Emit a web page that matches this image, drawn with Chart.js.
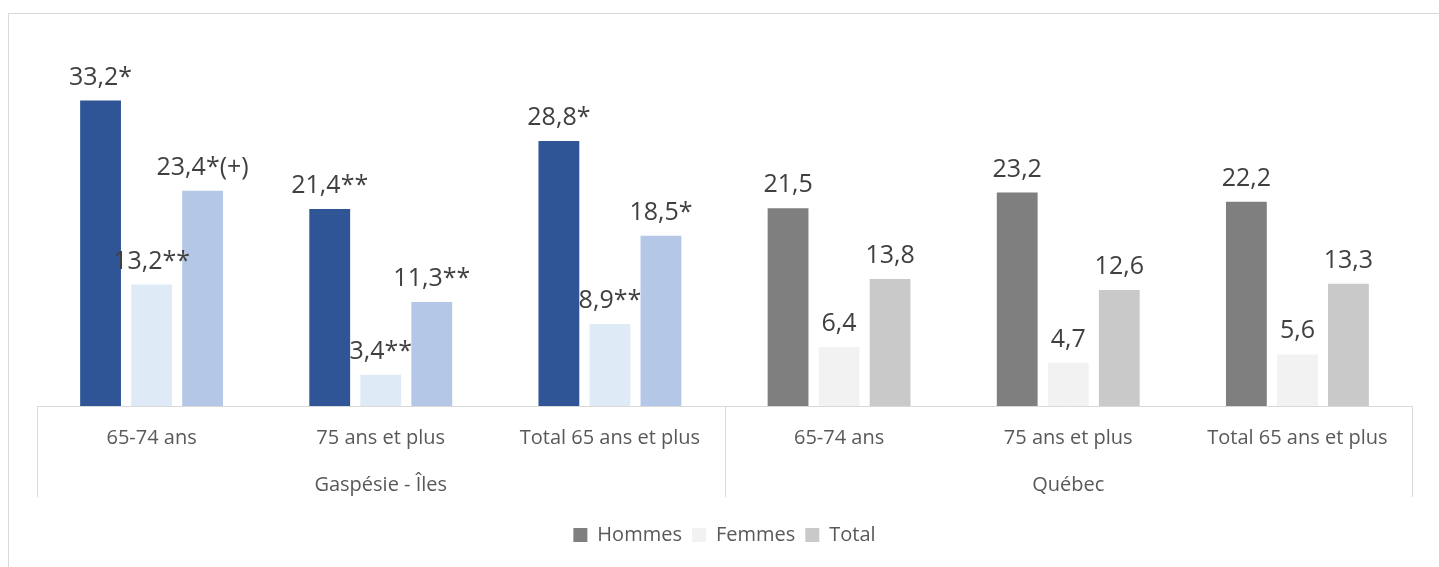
<!DOCTYPE html>
<html>
<head>
<meta charset="utf-8">
<script src="https://cdn.jsdelivr.net/npm/chart.js@4"></script>
<style>
  html, body { margin: 0; padding: 0; background: #fff; }
  #wrap { position: relative; width: 1439px; height: 567px; }
</style>
</head>
<body>
<div id="wrap"><canvas id="chart"></canvas></div>
<script>
// Data
const categories = ['65-74 ans', '75 ans et plus', 'Total 65 ans et plus', '65-74 ans', '75 ans et plus', 'Total 65 ans et plus'];
const groups = ['Gaspésie - Îles', 'Québec'];
const hommes = [33.2, 21.4, 28.8, 21.5, 23.2, 22.2];
const femmes = [13.2, 3.4, 8.9, 6.4, 4.7, 5.6];
const total = [23.4, 11.3, 18.5, 13.8, 12.6, 13.3];
const hommesLabels = ['33,2*', '21,4**', '28,8*', '21,5', '23,2', '22,2'];
const femmesLabels = ['13,2**', '3,4**', '8,9**', '6,4', '4,7', '5,6'];
const totalLabels = ['23,4*(+)', '11,3**', '18,5*', '13,8', '12,6', '13,3'];

const FONT = "'Open Sans', sans-serif";

// Colors: first 3 categories blue (region), last 3 grey (Québec)
const colHommes = ['#2F5597', '#2F5597', '#2F5597', '#7F7F7F', '#7F7F7F', '#7F7F7F'];
const colFemmes = ['#DEEBF7', '#DEEBF7', '#DEEBF7', '#F2F2F2', '#F2F2F2', '#F2F2F2'];
const colTotal = ['#B4C7E7', '#B4C7E7', '#B4C7E7', '#C9C9C9', '#C9C9C9', '#C9C9C9'];
const legendColors = ['#7F7F7F', '#F2F2F2', '#C9C9C9'];

// frame + group axis + value labels
const decorPlugin = {
    id: 'decor',
    beforeDraw: (chart) => {
        const ctx = chart.ctx;
        ctx.save();
        ctx.strokeStyle = '#D9D9D9';
        ctx.lineWidth = 1;
        ctx.strokeRect(8.5, 13.5, chart.width, chart.height);
        ctx.restore();
    },
    afterDraw: (chart) => {
        const ctx = chart.ctx;
        const x = chart.scales.x;
        const area = chart.chartArea;
        const half = (x.getPixelForValue(1) - x.getPixelForValue(0)) / 2;
        const left = x.getPixelForValue(0) - half;
        const mid = x.getPixelForValue(3) - half;
        const right = x.getPixelForValue(5) + half;
        const bottom = area.bottom + 91;
        ctx.save();
        ctx.strokeStyle = '#D9D9D9';
        ctx.lineWidth = 1;
        ctx.beginPath();
        ctx.moveTo(left, area.bottom + 0.5);
        ctx.lineTo(right, area.bottom + 0.5);
        [left, mid, right].forEach(px => {
            ctx.moveTo(Math.round(px) + 0.5, area.bottom);
            ctx.lineTo(Math.round(px) + 0.5, bottom);
        });
        ctx.stroke();
        ctx.fillStyle = '#595959';
        ctx.font = '20px ' + FONT;
        ctx.textAlign = 'center';
        ctx.textBaseline = 'middle';
        ctx.fillText(groups[0], (left + mid) / 2, area.bottom + 79);
        ctx.fillText(groups[1], (mid + right) / 2, area.bottom + 79);

        // value labels
        const labelSets = [hommesLabels, femmesLabels, totalLabels];
        ctx.fillStyle = '#404040';
        ctx.font = '25px ' + FONT;
        ctx.textBaseline = 'alphabetic';
        chart.data.datasets.forEach((ds, i) => {
            chart.getDatasetMeta(i).data.forEach((bar, j) => {
                ctx.fillText(labelSets[i][j], bar.x, bar.y - 16);
            });
        });
        ctx.restore();
    }
};

new Chart(document.getElementById('chart'), {
    type: 'bar',
    data: {
        labels: categories,
        datasets: [
            { label: 'Hommes', data: hommes, backgroundColor: colHommes },
            { label: 'Femmes', data: femmes, backgroundColor: colFemmes },
            { label: 'Total', data: total, backgroundColor: colTotal }
        ]
    },
    options: {
        responsive: true,
        maintainAspectRatio: false,
        animation: false,
        categoryPercentage: 0.668,
        barPercentage: 0.8,
        layout: { padding: { left: 37, right: 27, top: 84, bottom: 12 } },
        scales: {
            x: {
                grid: { display: false, drawTicks: false },
                border: { display: false },
                ticks: { color: '#595959', font: { family: FONT, size: 20 }, padding: 20, maxRotation: 0 },
                afterFit: (scale) => { scale.height = 109; }
            },
            y: { display: false, min: 0, max: 35 }
        },
        plugins: {
            tooltip: { enabled: false },
            legend: {
                position: 'bottom',
                labels: {
                    color: '#595959',
                    font: { family: FONT, size: 20 },
                    boxWidth: 14,
                    boxHeight: 14,
                    padding: 10,
                    generateLabels: (chart) => chart.data.datasets.map((ds, i) => ({
                        text: ds.label,
                        fillStyle: legendColors[i],
                        strokeStyle: legendColors[i],
                        lineWidth: 0,
                        fontColor: '#595959',
                        datasetIndex: i
                    }))
                }
            }
        }
    },
    plugins: [decorPlugin]
});
</script>
</body>
</html>
